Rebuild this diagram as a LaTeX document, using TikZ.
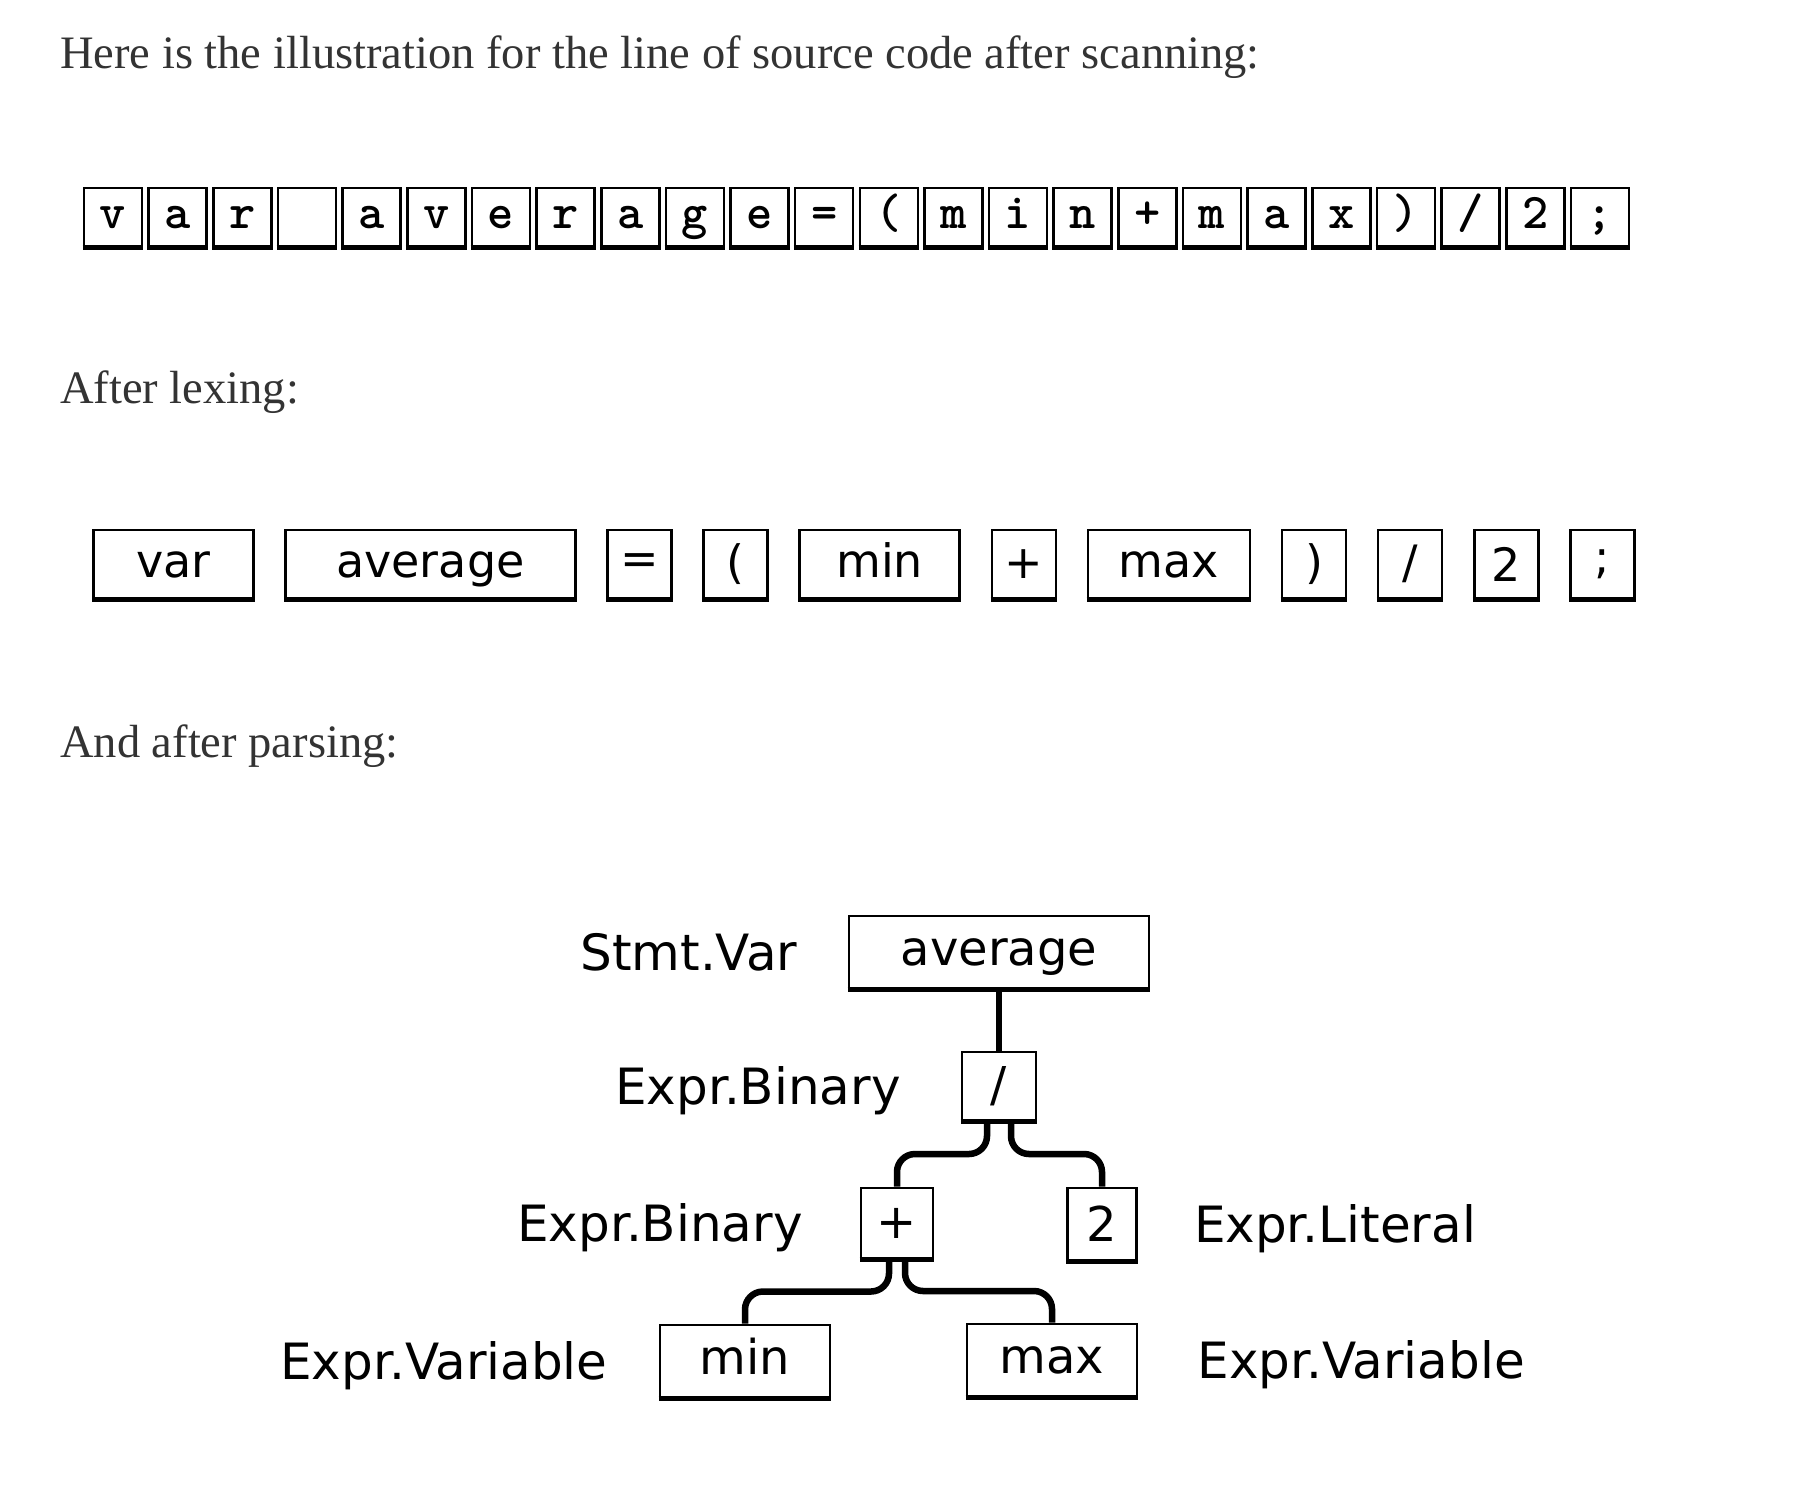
\documentclass[tikz,border=0pt]{standalone}
\usepackage{fontspec}
\usepackage{tikz}
\usetikzlibrary{positioning,calc}
\newfontfamily\handfont{DejaVu Sans}
\newfontfamily\bodyfont{Liberation Serif}

\begin{document}
\begin{tikzpicture}[x=1pt, y=-1pt,
  prose/.style={anchor=base west, inner sep=0pt, text=black!80, font=\bodyfont\fontsize{46.5}{54}\selectfont},
  heavy/.style={append after command={(\tikzlastnode.south west) edge[line width=5.5pt] (\tikzlastnode.south east)}},
  chr/.style={draw, line width=2.6pt, heavy, minimum width=58pt, minimum height=58pt, inner sep=0pt, text height=22pt, text depth=0pt, font=\ttfamily\bfseries\fontsize{50}{50}\selectfont},
  tok/.style={draw, line width=2.6pt, heavy, minimum width=64pt, minimum height=68pt, inner sep=0pt, font=\handfont\fontsize{46}{46}\selectfont},
  ast/.style={tok, minimum height=72pt, font=\handfont\fontsize{48}{48}\selectfont},
  word/.style={text height=26pt, text depth=0pt},
  lbl/.style={inner sep=0pt, text height=36pt, text depth=0pt, font=\handfont\fontsize{50}{50}\selectfont},
  wire/.style={line width=6.5pt, rounded corners=18pt}
]
\fill[white] (0,0) rectangle (1810,1486);
\useasboundingbox (0,0) rectangle (1810,1486);

\node[prose] (scanning) at (60,68) {Here is the illustration for the line of source code after scanning:};
\node[prose] (lexing) at (60,403) {After lexing:};
\node[prose] (parsing) at (60,757) {And after parsing:};

\foreach \c [count=\i] in {v,a,r,{},a,v,e,r,a,g,e,=,{(},m,i,n,+,m,a,x,{)},/,2,;}
  \node[chr] (c\i) at ({113+(\i-1)*64.65},217) {\c};

\node[tok, word, minimum width=160pt, anchor=west] (tvar) at (92,564) {var};
\node[tok, word, minimum width=290pt, right=29.5pt of tvar] (taverage) {average};
\node[tok, right=29.5pt of taverage] (teq) {=};
\node[tok, right=29.5pt of teq] (tlparen) {(};
\node[tok, word, minimum width=160pt, right=29.5pt of tlparen] (tmin) {min};
\node[tok, right=29.5pt of tmin] (tplus) {+};
\node[tok, word, minimum width=162pt, right=29.5pt of tplus] (tmax) {max};
\node[tok, right=29.5pt of tmax] (trparen) {)};
\node[tok, right=29.5pt of trparen] (tslash) {/};
\node[tok, right=29.5pt of tslash] (ttwo) {2};
\node[tok, right=29.5pt of ttwo] (tsemi) {;};

\node[ast, word, minimum width=300pt] (avg) at (999,952) {average};
\node[ast, minimum width=74pt, minimum height=68pt] (div) at (999,1086) {/};
\node[ast, minimum width=72pt, minimum height=70pt] (plus) at (897,1223) {+};
\node[ast, minimum width=69pt] (two) at (1102,1224) {2};
\node[ast, word, minimum width=170pt] (vmin) at (745,1361) {min};
\node[ast, word, minimum width=170pt] (vmax) at (1052,1360) {max};

\node[lbl, left=50pt of avg] (stmtvar) {Stmt.Var};
\node[lbl, left=60pt of div] (binaryup) {Expr.Binary};
\node[lbl, left=57pt of plus] (binarylow) {Expr.Binary};
\node[lbl, right=56pt of two] (literal) {Expr.Literal};
\node[lbl, left=51pt of vmin] (varleft) {Expr.Variable};
\node[lbl, right=59pt of vmax] (varright) {Expr.Variable};

\draw[wire] (avg) -- (div);
\draw[wire] ([xshift=-12pt]div.south) |- ($(plus.north)!0.5!(div.south)$) -| (plus.north);
\draw[wire] ([xshift=12pt]div.south) |- ($(two.north)!0.5!(div.south)$) -| (two.north);
\draw[wire] ([xshift=-8pt]plus.south) |- ($(vmin.north)!0.5!(plus.south)$) -| (vmin.north);
\draw[wire] ([xshift=8pt]plus.south) |- ($(vmax.north)!0.5!(plus.south)$) -| (vmax.north);
\end{tikzpicture}
\end{document}
